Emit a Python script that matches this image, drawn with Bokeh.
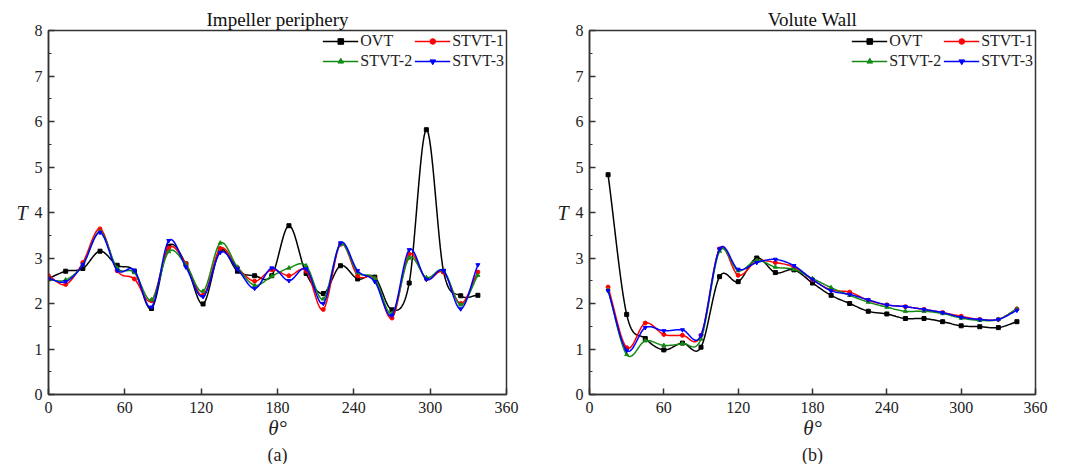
import numpy as np
from bokeh.plotting import figure
from bokeh.layouts import row
from bokeh.models import Legend, LegendItem, Title, FixedTicker, Range1d
from bokeh.embed import file_html
from bokeh.resources import INLINE

# ---------------- data ----------------
theta_a = [0, 13.5, 27, 40.5, 54, 67.5, 81, 94.5, 108, 121.5, 135, 148.5, 162,
           175.5, 189, 202.5, 216, 229.5, 243, 256.5, 270, 283.5, 297, 310.5, 324, 337.5]
ovt_a = [2.55, 2.71, 2.77, 3.15, 2.84, 2.71, 1.89, 3.26, 2.87, 1.99, 3.17, 2.71, 2.61,
         2.61, 3.71, 2.66, 2.22, 2.83, 2.54, 2.58, 1.86, 2.45, 5.82, 2.71, 2.17, 2.18]
stvt1_a = [2.61, 2.42, 2.90, 3.64, 2.72, 2.54, 2.06, 3.22, 2.87, 2.18, 3.21, 2.79, 2.49,
           2.74, 2.61, 2.72, 1.87, 3.30, 2.61, 2.54, 1.68, 3.08, 2.54, 2.69, 2.00, 2.69]
stvt2_a = [2.52, 2.52, 2.85, 3.58, 2.78, 2.68, 2.08, 3.14, 2.85, 2.27, 3.33, 2.80, 2.40,
           2.60, 2.78, 2.83, 2.10, 3.30, 2.68, 2.55, 1.78, 3.00, 2.57, 2.72, 1.97, 2.62]
stvt3_a = [2.55, 2.48, 2.85, 3.56, 2.73, 2.73, 1.92, 3.38, 2.80, 2.15, 3.12, 2.76, 2.33,
           2.78, 2.50, 2.76, 2.00, 3.33, 2.72, 2.48, 1.74, 3.18, 2.53, 2.72, 1.88, 2.85]

theta_b = [15, 30, 45, 60, 75, 90, 105, 120, 135, 150, 165, 180, 195, 210, 225, 240,
           255, 270, 285, 300, 315, 330, 345]
ovt_b = [4.83, 1.76, 1.23, 0.98, 1.13, 1.04, 2.59, 2.48, 3.00, 2.68, 2.74, 2.45, 2.18,
         2.00, 1.83, 1.77, 1.67, 1.67, 1.60, 1.51, 1.49, 1.47, 1.60]
stvt1_b = [2.36, 1.03, 1.57, 1.32, 1.30, 1.30, 3.20, 2.62, 2.93, 2.90, 2.80, 2.52, 2.30,
           2.25, 2.07, 1.97, 1.93, 1.87, 1.80, 1.72, 1.65, 1.65, 1.88]
stvt2_b = [2.30, 0.88, 1.18, 1.08, 1.12, 1.22, 3.15, 2.72, 2.95, 2.80, 2.75, 2.55, 2.35,
           2.18, 2.03, 1.92, 1.83, 1.83, 1.78, 1.68, 1.63, 1.65, 1.88]
stvt3_b = [2.28, 0.97, 1.47, 1.40, 1.42, 1.30, 3.20, 2.75, 2.90, 2.97, 2.83, 2.53, 2.28,
           2.20, 2.08, 1.97, 1.93, 1.87, 1.80, 1.70, 1.65, 1.65, 1.85]

series_names = ["OVT", "STVT-1", "STVT-2", "STVT-3"]
colors = ["#000000", "#ff0000", "#138a13", "#0000ff"]
markers = ["square", "circle", "triangle", "inverted_triangle"]
x_ticks = [0, 60, 120, 180, 240, 300, 360]
y_ticks = [0, 1, 2, 3, 4, 5, 6, 7, 8]

SERIF = "Liberation Serif"
AXC = "#333333"
TXC = "#222222"


def smooth(x, y, n=16):
    """Cardinal (Catmull-Rom) Hermite path through the data points (drawing only)."""
    x = np.asarray(x, float)
    y = np.asarray(y, float)
    m = len(x)
    d = np.zeros(m)
    d[0] = (y[1] - y[0]) / (x[1] - x[0])
    d[-1] = (y[-1] - y[-2]) / (x[-1] - x[-2])
    for i in range(1, m - 1):
        d[i] = (y[i + 1] - y[i - 1]) / (x[i + 1] - x[i - 1])
    xs, ys = [], []
    for i in range(m - 1):
        h = x[i + 1] - x[i]
        t = np.linspace(0, 1, n, endpoint=(i == m - 2))
        h00 = 2 * t ** 3 - 3 * t ** 2 + 1
        h10 = t ** 3 - 2 * t ** 2 + t
        h01 = -2 * t ** 3 + 3 * t ** 2
        h11 = t ** 3 - t ** 2
        s = h00 * y[i] + h10 * h * d[i] + h01 * y[i + 1] + h11 * h * d[i + 1]
        xs.extend(x[i] + t * h)
        ys.extend(s)
    return xs, ys


def make_fig(title, sub, x, ys, width, height, bl, br, bt, bb):
    p = figure(width=width, height=height, output_backend="svg", toolbar_location=None,
               x_range=Range1d(0, 360), y_range=Range1d(0, 8),
               min_border_left=bl, min_border_right=br, min_border_top=bt, min_border_bottom=bb)
    p.title.text = title
    p.title.align = "center"
    p.title.text_font = SERIF
    p.title.text_font_size = "19px"
    p.title.text_font_style = "normal"
    p.title.text_color = "#111111"
    p.title.standoff = 2
    p.title.offset = 0
    p.grid.visible = False
    p.outline_line_color = AXC
    p.outline_line_width = 1.5
    p.background_fill_color = "white"
    p.border_fill_color = "white"

    for ax in (p.xaxis[0], p.yaxis[0]):
        ax.axis_line_color = AXC
        ax.axis_line_width = 1.5
        ax.major_tick_in = 6
        ax.major_tick_out = 0
        ax.minor_tick_in = 3
        ax.minor_tick_out = 0
        ax.major_tick_line_color = AXC
        ax.minor_tick_line_color = AXC
        ax.major_tick_line_width = 1.5
        ax.major_label_text_font = SERIF
        ax.major_label_text_font_size = "16px"
        ax.major_label_text_color = TXC
        ax.axis_label_text_font = SERIF
        ax.axis_label_text_font_style = "italic"
        ax.axis_label_text_color = TXC

    p.xaxis.ticker = FixedTicker(ticks=x_ticks)
    p.xaxis.major_label_standoff = 7
    p.xaxis.axis_label = "θ°"
    p.xaxis.axis_label_text_font_size = "21px"
    p.xaxis.axis_label_standoff = 0

    p.yaxis.ticker = FixedTicker(ticks=y_ticks, minor_ticks=[v + 0.5 for v in y_ticks[:-1]])
    p.yaxis.major_label_standoff = 6
    p.yaxis.axis_label = "T"
    p.yaxis.axis_label_text_font_size = "20px"
    p.yaxis.axis_label_standoff = 4
    p.yaxis.major_label_orientation = "horizontal"
    p.yaxis.axis_label_orientation = "horizontal"

    items = []
    for name, col, mk, yv in zip(series_names, colors, markers, ys):
        sx, sy = smooth(x, yv)
        r1 = p.line(sx, sy, line_color=col, line_width=1.5)
        r2 = p.scatter(x, yv, marker=mk, size=4, fill_color=col, line_color=col)
        items.append(LegendItem(label=name, renderers=[r1, r2]))

    leg = Legend(items=items, location="top_right", orientation="horizontal", ncols=2,
                 background_fill_alpha=0, border_line_color=None,
                 label_text_font=SERIF, label_text_font_size="16px",
                 label_text_color=TXC, glyph_width=36, glyph_height=14,
                 label_standoff=2, spacing=2, padding=0, margin=2, label_height=16)
    p.add_layout(leg)

    p.add_layout(Title(text=sub, align="center", text_font=SERIF, text_font_size="18px",
                       text_font_style="normal", text_color=TXC, standoff=0, offset=0),
                 "below")
    return p


p1 = make_fig("Impeller periphery", "(a)", theta_a, [ovt_a, stvt1_a, stvt2_a, stvt3_a],
              530, 464, 48, 24, 29, 66)
p2 = make_fig("Volute Wall", "(b)", theta_b, [ovt_b, stvt1_b, stvt2_b, stvt3_b],
              522, 464, 59, 17, 30, 64)

layout = row(p1, p2)
open("out.html", "w").write(file_html(layout, INLINE))
